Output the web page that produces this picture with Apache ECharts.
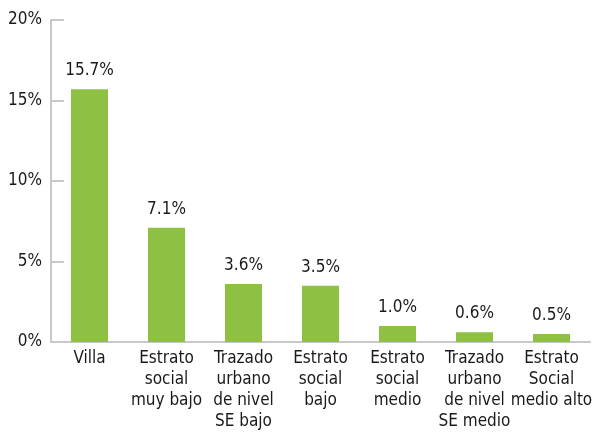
<!DOCTYPE html>
<html>
<head>
<meta charset="utf-8">
<script src="https://cdn.jsdelivr.net/npm/echarts@6/dist/echarts.min.js"></script>
<style>
  html, body { margin: 0; padding: 0; background: #fff; }
  #container { width: 592px; height: 432px; }
</style>
</head>
<body>
<div id="container"></div>
<script>
// categorías y valores (%)
var categories = [
  'Villa',
  'Estrato\nsocial\nmuy bajo',
  'Trazado\nurbano\nde nivel\nSE bajo',
  'Estrato\nsocial\nbajo',
  'Estrato\nsocial\nmedio',
  'Trazado\nurbano\nde nivel\nSE medio',
  'Estrato\nSocial\nmedio alto'
];
var values = [15.7, 7.1, 3.6, 3.5, 1.0, 0.6, 0.5];

var font = '"DejaVu Sans Condensed", "DejaVu Sans", sans-serif';
var txt = {
  color: '#1a1a1a',
  fontFamily: font,
  fontStyle: 'condensed',
  fontSize: 17
};

var dom = document.getElementById('container');
var myChart = echarts.init(dom, null, { renderer: 'canvas' });

var option = {
  animation: false,
  grid: { left: 51, right: 2, top: 20, bottom: 90, outerBoundsMode: 'none', containLabel: false },
  xAxis: {
    type: 'category',
    data: categories,
    axisLine: { lineStyle: { color: '#c8c8c8', width: 2 } },
    axisTick: { inside: true, length: 6, lineStyle: { color: '#c8c8c8', width: 2 } },
    axisLabel: Object.assign({ interval: 0, lineHeight: 21, margin: 6 }, txt)
  },
  yAxis: {
    type: 'value',
    min: 0,
    max: 20,
    interval: 5,
    splitLine: { show: false },
    axisLine: { show: true, lineStyle: { color: '#c8c8c8', width: 2 } },
    axisTick: { show: true, inside: true, length: 13, lineStyle: { color: '#c8c8c8', width: 2 } },
    axisLabel: Object.assign({ margin: 9, formatter: '{value}%' }, txt)
  },
  series: [{
    type: 'bar',
    data: values,
    barWidth: 37,
    itemStyle: { color: '#8dc043' },
    label: Object.assign({
      show: true,
      position: 'top',
      distance: 10,
      formatter: function (p) { return p.value.toFixed(1) + '%'; }
    }, txt)
  }]
};

myChart.setOption(option);
window.addEventListener('resize', myChart.resize);
</script>
</body>
</html>
